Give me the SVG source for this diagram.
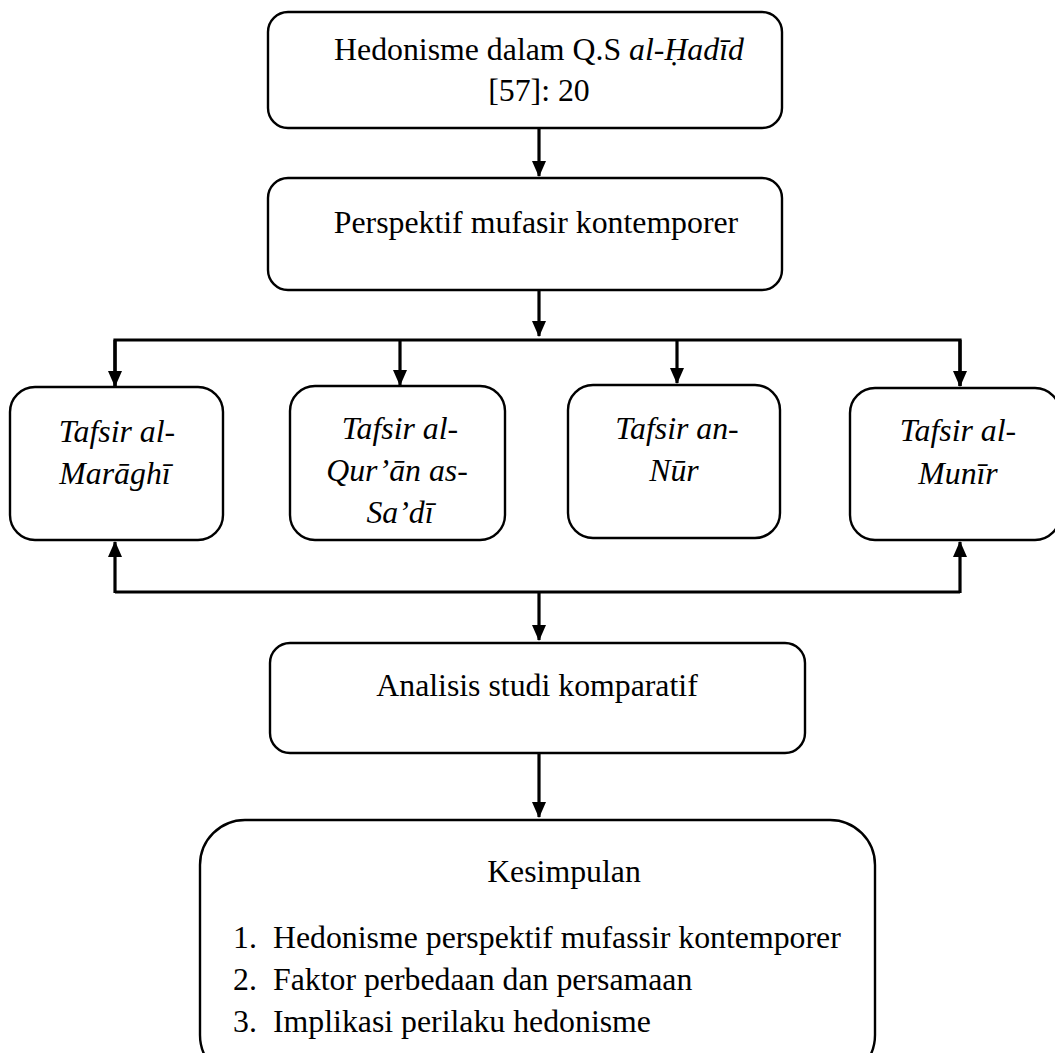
<svg xmlns="http://www.w3.org/2000/svg" width="1055" height="1053" viewBox="0 0 1055 1053">
<style>
.box{fill:#fff;stroke:#000;stroke-width:2.4}
.t{font-family:"Liberation Serif","Times New Roman",serif;font-size:31.8px;fill:#000}
.i{font-style:italic}
.c{text-anchor:middle}
.ln{fill:none;stroke:#000;stroke-width:3.2}
</style>
<defs>
<marker id="ah" markerUnits="userSpaceOnUse" markerWidth="16" markerHeight="16" refX="15" refY="8" orient="auto" viewBox="0 0 16 16">
<path d="M0,1 L16,8 L0,15 Z" fill="#000"/>
</marker>
</defs>
<rect width="1055" height="1053" fill="#fff"/>
<g id="connectors">
<line class="ln" x1="539" y1="128" x2="539" y2="176" marker-end="url(#ah)"/>
<line class="ln" x1="539" y1="290" x2="539" y2="336" marker-end="url(#ah)"/>
<polyline class="ln" points="115,386 115,340 960,340 960,386"/>
<line class="ln" x1="115" y1="340" x2="115" y2="386" marker-end="url(#ah)"/>
<line class="ln" x1="400" y1="340" x2="400" y2="385" marker-end="url(#ah)"/>
<line class="ln" x1="677" y1="340" x2="677" y2="383" marker-end="url(#ah)"/>
<line class="ln" x1="960" y1="340" x2="960" y2="386" marker-end="url(#ah)"/>
<polyline class="ln" points="115,592 960,592"/>
<line class="ln" x1="115" y1="593" x2="115" y2="542" marker-end="url(#ah)"/>
<line class="ln" x1="960" y1="593" x2="960" y2="542" marker-end="url(#ah)"/>
<line class="ln" x1="539" y1="592" x2="539" y2="640" marker-end="url(#ah)"/>
<line class="ln" x1="539" y1="753" x2="539" y2="817" marker-end="url(#ah)"/>
</g>
<g id="node-hedonisme">
<rect class="box" x="268" y="12" width="514" height="116" rx="20"/>
<text class="t c" x="539" y="60">Hedonisme dalam Q.S <tspan class="i">al-Ḥadīd</tspan></text>
<text class="t c" x="539" y="101">[57]: 20</text>
</g>
<g id="node-perspektif">
<rect class="box" x="268" y="178" width="514" height="112" rx="20"/>
<text class="t c" x="536" y="233">Perspektif mufasir kontemporer</text>
</g>
<g id="node-maraghi">
<rect class="box" x="10" y="387" width="213" height="153" rx="25"/>
<text class="t c i" x="117" y="442">Tafsir al-</text>
<text class="t c i" x="115" y="484">Marāghī</text>
</g>
<g id="node-sadi">
<rect class="box" x="290" y="386" width="215" height="154" rx="25"/>
<text class="t c i" x="400" y="439">Tafsir al-</text>
<text class="t c i" x="397" y="481">Qur’ān as-</text>
<text class="t c i" x="400" y="523">Sa’dī</text>
</g>
<g id="node-nur">
<rect class="box" x="568" y="385" width="212" height="153" rx="25"/>
<text class="t c i" x="677" y="439">Tafsir an-</text>
<text class="t c i" x="674" y="481">Nūr</text>
</g>
<g id="node-munir">
<rect class="box" x="850" y="388" width="210" height="152" rx="25"/>
<text class="t c i" x="958" y="441">Tafsir al-</text>
<text class="t c i" x="958" y="484">Munīr</text>
</g>
<g id="node-analisis">
<rect class="box" x="270" y="643" width="535" height="110" rx="20"/>
<text class="t c" x="537" y="696">Analisis studi komparatif</text>
</g>
<g id="node-kesimpulan">
<rect class="box" x="200" y="820" width="675" height="260" rx="45"/>
<text class="t c" x="564" y="882">Kesimpulan</text>
<text class="t" x="233" y="948">1.</text>
<text class="t" x="273" y="948">Hedonisme perspektif mufassir kontemporer</text>
<text class="t" x="233" y="990">2.</text>
<text class="t" x="273" y="990">Faktor perbedaan dan persamaan</text>
<text class="t" x="233" y="1032">3.</text>
<text class="t" x="273" y="1032">Implikasi perilaku hedonisme</text>
</g>
</svg>
